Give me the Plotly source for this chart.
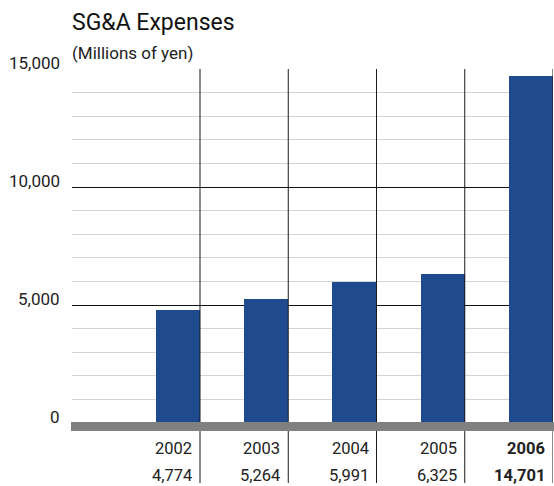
import plotly.graph_objects as go

# ---- data ----
years = ["2002", "2003", "2004", "2005", "2006"]
values = [4774, 5264, 5991, 6325, 14701]
value_labels = ["4,774", "5,264", "5,991", "6,325", "14,701"]
y_ticks = [0, 5000, 10000, 15000]
y_tick_labels = ["0", "5,000", "10,000", "15,000"]
title_text = "SG&A Expenses"
subtitle_text = "(Millions of yen)"

FONT = "Roboto, Liberation Sans Narrow, sans-serif"
BAR_COLOR = "#1f4b8e"

W, H = 554, 486
L_M, R_M, T_M, B_M = 72, 1, 69, 63
plot_h = H - T_M - B_M


def py_to_paper(py):
    return (H - B_M - py) / plot_h


n = len(years)
bounds = list(range(1, n + 1))            # right boundary of each column
centers = [b - 0.25 for b in bounds]      # bar sits in right half of column

fig = go.Figure()
fig.add_trace(go.Bar(
    x=centers, y=values, width=0.5,
    marker=dict(color=BAR_COLOR, line=dict(width=0)),
    hoverinfo="skip", showlegend=False,
))

shapes = []
# vertical separators (plot + table)
for b in bounds:
    shapes.append(dict(type="line", xref="x", yref="paper", x0=b, x1=b,
                       y0=py_to_paper(483), y1=1,
                       line=dict(color="#1a1a1a", width=1), layer="above"))
# gray baseline bar
shapes.append(dict(type="rect", xref="paper", yref="paper",
                   x0=-1 / (W - L_M - R_M), x1=1.01,
                   y0=py_to_paper(431), y1=py_to_paper(422),
                   fillcolor="#808080", line=dict(width=0), layer="above"))

annotations = []
# y tick labels
for v, t in zip(y_ticks, y_tick_labels):
    annotations.append(dict(text=t, xref="paper", yref="y", x=0, y=v,
                            xanchor="right", yanchor="middle", xshift=-10, yshift=6,
                            showarrow=False, font=dict(family=FONT, size=17, color="#222")))
# table rows
for i, (yr, vl) in enumerate(zip(years, value_labels)):
    bold = i == n - 1
    for txt, py in ((yr, 448), (vl, 475)):
        annotations.append(dict(text=f"<b>{txt}</b>" if bold else txt,
                                xref="x", yref="paper", x=bounds[i], y=py_to_paper(py),
                                xanchor="right", yanchor="middle", xshift=-6,
                                showarrow=False, font=dict(family=FONT, size=16.5, color="#222")))
# title + subtitle
annotations.append(dict(text=title_text, xref="paper", yref="paper", x=0, y=py_to_paper(22),
                        xanchor="left", yanchor="middle", showarrow=False, xshift=-2,
                        font=dict(family=FONT, size=23, color="#111")))
annotations.append(dict(text=subtitle_text, xref="paper", yref="paper", x=0, y=py_to_paper(53),
                        xanchor="left", yanchor="middle", showarrow=False, xshift=-2,
                        font=dict(family=FONT, size=17, color="#222")))

fig.update_layout(
    width=W, height=H,
    margin=dict(l=L_M, r=R_M, t=T_M, b=B_M, pad=0),
    paper_bgcolor="white", plot_bgcolor="white",
    xaxis=dict(range=[-0.4505, n], showgrid=False, zeroline=False,
               showticklabels=False, showline=False, fixedrange=True),
    yaxis=dict(range=[0, 15000], tickmode="array", tickvals=y_ticks,
               showticklabels=False, showgrid=True, gridcolor="#111", gridwidth=1,
               zeroline=False, showline=False, fixedrange=True,
               minor=dict(dtick=1000, showgrid=True, gridcolor="#d4d4d4", gridwidth=1)),
    shapes=shapes, annotations=annotations,
    bargap=0,
)

fig.write_html("out.html", config={"displayModeBar": False},
               post_script="document.body.style.margin='0';document.body.style.overflow='hidden';")
